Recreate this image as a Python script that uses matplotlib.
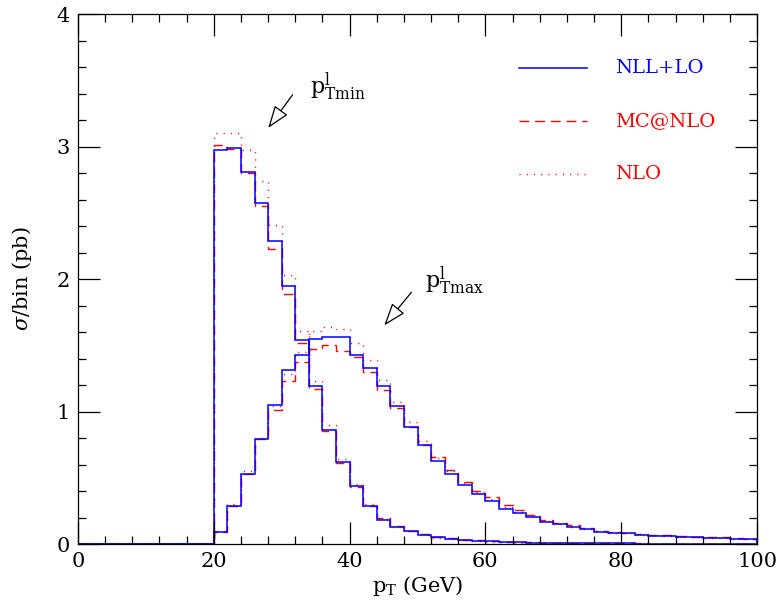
import numpy as np
import matplotlib
matplotlib.use("Agg")
import matplotlib.pyplot as plt
from matplotlib.patches import FancyArrowPatch
from matplotlib.ticker import MultipleLocator

plt.rcParams['font.family'] = 'DejaVu Serif'
plt.rcParams['mathtext.fontset'] = 'dejavuserif'

# --- histogram contents, 2 GeV bins from 20 to 100 GeV (zero below 20) ---
bin_lo, bin_hi, bin_w = 20, 100, 2

# p^l_Tmin
min_nll = [2.97, 2.99, 2.81, 2.57, 2.29, 1.95, 1.54, 1.19, 0.86, 0.62,
           0.44, 0.29, 0.185, 0.13, 0.098, 0.068, 0.050, 0.038, 0.030, 0.025,
           0.020, 0.016, 0.013, 0.011, 0.009, 0.008, 0.007, 0.006, 0.005, 0.0045,
           0.004, 0.0035, 0.003, 0.003, 0.0025, 0.0025, 0.002, 0.002, 0.002, 0.0015]
min_mc = [3.01, 2.98, 2.80, 2.55, 2.23, 1.89, 1.52, 1.17, 0.85, 0.61,
          0.43, 0.29, 0.195, 0.135, 0.10, 0.072, 0.055, 0.042, 0.033, 0.027,
          0.022, 0.018, 0.015, 0.012, 0.010, 0.009, 0.008, 0.007, 0.006, 0.005,
          0.0045, 0.004, 0.0035, 0.003, 0.003, 0.0025, 0.0025, 0.002, 0.002, 0.002]
min_nlo = [3.10, 3.10, 2.97, 2.74, 2.41, 2.03, 1.61, 1.23, 0.90, 0.64,
           0.45, 0.30, 0.19, 0.13, 0.095, 0.066, 0.048, 0.036, 0.028, 0.022,
           0.018, 0.014, 0.011, 0.009, 0.008, 0.007, 0.006, 0.005, 0.004, 0.004,
           0.0035, 0.003, 0.003, 0.0025, 0.002, 0.002, 0.002, 0.0015, 0.0015, 0.001]

# p^l_Tmax
max_nll = [0.093, 0.29, 0.53, 0.795, 1.05, 1.31, 1.43, 1.545, 1.56, 1.56,
           1.43, 1.33, 1.19, 1.04, 0.885, 0.75, 0.625, 0.53, 0.445, 0.38,
           0.324, 0.267, 0.236, 0.206, 0.168, 0.148, 0.13, 0.11, 0.09, 0.085,
           0.08, 0.07, 0.06, 0.06, 0.055, 0.05, 0.045, 0.045, 0.04, 0.035]
max_mc = [0.09, 0.29, 0.53, 0.79, 1.01, 1.23, 1.37, 1.47, 1.50, 1.46,
          1.41, 1.30, 1.16, 1.03, 0.885, 0.75, 0.66, 0.56, 0.47, 0.40,
          0.355, 0.295, 0.257, 0.22, 0.18, 0.16, 0.14, 0.12, 0.10, 0.09,
          0.085, 0.075, 0.07, 0.065, 0.06, 0.055, 0.05, 0.05, 0.045, 0.04]
max_nlo = [0.10, 0.30, 0.55, 0.80, 1.04, 1.28, 1.45, 1.61, 1.64, 1.62,
           1.52, 1.39, 1.24, 1.07, 0.92, 0.78, 0.65, 0.55, 0.46, 0.39,
           0.34, 0.28, 0.245, 0.21, 0.175, 0.15, 0.13, 0.115, 0.095, 0.085,
           0.08, 0.07, 0.065, 0.06, 0.055, 0.05, 0.045, 0.045, 0.04, 0.035]

labels = ['NLL+LO', 'MC@NLO', 'NLO']

edges = np.arange(0, bin_hi + bin_w, bin_w)
n_empty = (bin_lo - 0) // bin_w


def pad(v):
    # empty bins below the 20 GeV cut
    return np.concatenate([np.zeros(n_empty), np.asarray(v, float)])


styles = [dict(color='#0000ff', lw=1.1, ls='-'),
          dict(color='#ff0000', lw=1.0, ls=(0, (7.0, 4.3))),
          dict(color='#ff0000', lw=1.0, ls=(0, (0.8, 4.4)))]

fig = plt.figure(figsize=(7.77, 6.01), dpi=100)
ax = fig.add_axes([0.1004, 0.0948, 0.8739, 0.8819])

# dotted first, solid blue on top
for series, st in [((min_nlo, max_nlo), styles[2]),
                   ((min_mc, max_mc), styles[1]),
                   ((min_nll, max_nll), styles[0])]:
    for vals in series:
        ax.stairs(pad(vals), edges, baseline=0, fill=False,
                  edgecolor=st['color'], linewidth=st['lw'], linestyle=st['ls'])

ax.set_xlim(0, 100)
ax.set_ylim(0, 4)
ax.xaxis.set_major_locator(MultipleLocator(20))
ax.xaxis.set_minor_locator(MultipleLocator(4))
ax.yaxis.set_major_locator(MultipleLocator(1))
ax.yaxis.set_minor_locator(MultipleLocator(0.2))
ax.tick_params(which='both', direction='in', top=True, right=True,
               width=0.9, labelsize=15)
ax.tick_params(which='major', length=16, pad=6)
ax.tick_params(which='minor', length=5.5)
for s in ax.spines.values():
    s.set_linewidth(0.9)

ax.set_xlabel(r'$\mathrm{p_T}$ (GeV)', fontsize=15, labelpad=2)
ax.set_ylabel(r'$\sigma$/bin (pb)', fontsize=15, labelpad=16)

# legend drawn by hand: sample line + coloured label
leg_y = [3.59, 3.19, 2.79]
for lab, st, ly in zip(labels, styles, leg_y):
    ax.plot([64.9, 75.0], [ly, ly], color=st['color'], lw=st['lw'], ls=st['ls'])
    ax.text(79.1, ly, lab, color=st['color'], fontsize=14, va='center', ha='left')

# labels with arrows for the two distributions
ax.text(34.1, 3.40, r'$\mathrm{p^{l}_{Tmin}}$', fontsize=16, ha='left', va='baseline')
ax.text(51.1, 1.93, r'$\mathrm{p^{l}_{Tmax}}$', fontsize=16, ha='left', va='baseline')
for tail, head in [((31.6, 3.39), (28.0, 3.14)), ((49.1, 1.90), (45.1, 1.65))]:
    ax.add_patch(FancyArrowPatch(tail, head, arrowstyle='-|>,head_length=1.4,head_width=0.5',
                                 mutation_scale=10, lw=0.9, ec='black', fc='white',
                                 shrinkA=0, shrinkB=0))

fig.savefig('out.png', dpi=100)
